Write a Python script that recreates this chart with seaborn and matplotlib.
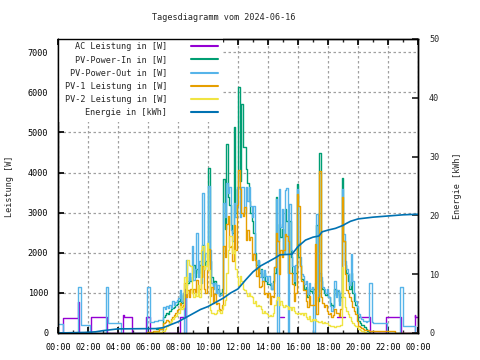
import numpy as np
import pandas as pd
import matplotlib
matplotlib.use('Agg')
import matplotlib.pyplot as plt
from matplotlib.lines import Line2D
from matplotlib.ticker import MultipleLocator
import seaborn as sns

# values (hour of day, watts / kWh), drawn as steps

# AC power: night blocks plus a few short pieces that peek out in daytime
ac_t = [0.00, 0.33, 1.33, 1.42, 2.20, 3.25, 4.33, 4.40, 4.90, 5.85, 6.10, 8.15, 8.45, 8.50]
ac_w = [0, 380, 770, 0, 390, 0, 450, 390, 0, 390, 0, 390, 1100, 0]
ac_day_t = [14.80, 15.07, 17.10, 17.15, 18.60, 19.13]
ac_day_w = [400, 400, 1000, 1000, 400, 400]
ac_eve_t = [20.00, 20.78, 21.88, 22.88, 23.78, 23.80, 24.00]
ac_eve_w = [390, 0, 390, 0, 450, 390, 390]

# daytime grid 07:00 .. 20:54, one value per 6 minutes
day_t = np.round(np.arange(7.0, 21.0, 0.1), 1)

pvout_pre_t = [0.00, 0.33, 1.33, 1.50, 2.13, 3.20, 3.33, 4.20, 5.93, 6.15, 6.40, 6.67]
pvout_pre_w = [220, 0, 1150, 200, 0, 1150, 250, 0, 1150, 270, 300, 330]
pvout_day = [650, 600, 680, 620, 700, 620, 800, 700, 780, 820,
             870, 1080, 800, 1000, 0, 1830, 1300, 1500, 1330, 2170,
             1330, 1600, 2500, 1400, 1800, 1250, 3500, 1800, 2000, 1900,
             3670, 2080, 1250, 1100, 1250, 1000, 1200, 920, 950, 1000,
             3250, 2900, 3750, 3500, 3640, 2580, 2300, 3250, 2900, 3640,
             3640, 2900, 3640, 3640, 3000, 3640, 3300, 3640, 3170, 2900,
             3170, 1830, 1600, 1830, 1400, 1580, 1300, 1580, 1420, 1300,
             1420, 1250, 1100, 1250, 1640, 3330, 0, 3600, 2640, 3080,
             2000, 3560, 3620, 0, 3220, 2080, 1670, 1300, 1700, 3580,
             2250, 1890, 1475, 1420, 1220, 1300, 975, 1250, 1100, 1140,
             0, 1250, 2970, 890, 1500, 1400, 1140, 1100, 1000, 1100,
             890, 670, 560, 640, 1300, 900, 1060, 700, 1000, 3600,
             2470, 1800, 1600, 1475, 1200, 1970, 1300, 1000, 800, 650,
             480, 390, 350, 310, 300, 280, 310, 1240, 1240, 280]
pvout_eve_t = [21.00, 21.50, 21.90, 22.80, 23.00, 23.80, 24.00]
pvout_eve_w = [260, 240, 0, 1150, 180, 0, 0]

pvin_pre_t = [6.50]
pvin_pre_w = [100]
pvin_day = [400, 450, 500, 480, 550, 600, 620, 650, 700, 720,
            800, 950, 750, 1000, 900, 1200, 1250, 1400, 1300, 1500,
            1700, 1400, 1600, 1500, 1700, 1400, 2200, 1600, 1800, 1700,
            4120, 1800, 1400, 1200, 1300, 1000, 1100, 950, 1000, 1100,
            3830, 2600, 4720, 3400, 3200, 2700, 2500, 5140, 3000, 3600,
            6140, 3800, 5720, 4640, 4640, 4080, 3750, 3300, 3000, 2800,
            2500, 2000, 1700, 1800, 1500, 1600, 1400, 1500, 1300, 1220,
            1220, 1200, 1100, 1300, 1500, 3400, 2300, 2720, 2400, 2600,
            2000, 3100, 2800, 1500, 2800, 1900, 1500, 1200, 1500, 3720,
            1900, 1700, 1350, 1300, 1100, 1150, 900, 1100, 1050, 1000,
            1100, 1100, 2700, 800, 4500, 1300, 1100, 1000, 950, 1000,
            900, 750, 700, 650, 1100, 950, 1050, 800, 900, 3870,
            2300, 1700, 1500, 1300, 1100, 1500, 1000, 800, 700, 500,
            300, 250, 200, 200, 150, 100, 50, 0, 0, 0]

pv1_pre_t = [5.95, 6.30, 6.70]
pv1_pre_w = [30, 60, 100]
pv1_day = [250, 280, 330, 300, 250, 350, 400, 450, 500, 580,
           600, 750, 650, 700, 1250, 900, 1080, 900, 1100, 1000,
           1100, 1000, 1330, 1000, 1100, 1400, 1670, 1100, 1000, 1580,
           2100, 920, 1140, 750, 980, 720, 750, 600, 580, 700,
           2170, 1900, 2720, 2920, 2140, 2170, 1800, 2700, 2080, 3200,
           4060, 3580, 3000, 2920, 3140, 2330, 2560, 2330, 2400, 1830,
           1980, 1830, 1420, 1640, 1140, 1170, 1300, 975, 1000, 900,
           1000, 725, 920, 900, 1640, 2500, 2300, 1475, 2080, 1900,
           2080, 2470, 2420, 2300, 1500, 1500, 1220, 800, 1000, 3470,
           3170, 1670, 1300, 1060, 1080, 800, 640, 920, 700, 700,
           700, 2220, 475, 900, 4040, 900, 750, 640, 700, 550,
           475, 500, 400, 450, 600, 500, 500, 420, 600, 3390,
           2300, 1475, 1060, 1000, 890, 800, 650, 550, 475, 300,
           180, 150, 120, 100, 80, 70, 70, 60, 60, 50]
pv1_eve_t = [21.00, 22.45, 24.00]
pv1_eve_w = [50, 0, 0]

pv2_pre_t = [6.40, 6.90]
pv2_pre_w = [20, 60]
pv2_day = [60, 100, 170, 200, 250, 300, 350, 400, 420, 500,
           500, 670, 600, 650, 1400, 1000, 1830, 1700, 1670, 1000,
           900, 1000, 920, 1200, 900, 2080, 2170, 1600, 1670, 2250,
           1580, 580, 500, 500, 480, 500, 580, 560, 500, 600,
           700, 830, 1500, 2080, 2420, 2420, 2000, 2080, 1600, 1400,
           1200, 1420, 1300, 1100, 1080, 1000, 920, 1000, 920, 900,
           750, 800, 670, 700, 670, 600, 500, 550, 500, 480,
           420, 450, 420, 500, 700, 830, 890, 700, 800, 700,
           640, 700, 670, 600, 640, 580, 640, 550, 500, 475,
           500, 480, 500, 450, 500, 400, 350, 420, 300, 350,
           320, 350, 300, 280, 270, 300, 250, 270, 250, 250,
           200, 180, 170, 180, 160, 180, 170, 180, 200, 1640,
           900, 640, 550, 475, 400, 300, 250, 200, 180, 150,
           100, 80, 60, 40, 20, 0, 0, 0, 0, 0]

energy_t = [0.0, 1.8, 2.5, 3.0, 4.0, 6.5, 7.0, 7.5, 8.0, 8.5, 9.0, 9.5, 10.0, 10.5, 11.0, 11.5,
            12.0, 12.5, 13.0, 13.5, 14.0, 14.5, 14.8, 15.6, 16.0, 16.5, 17.0, 17.4, 17.6, 18.0,
            18.5, 19.0, 19.2, 19.5, 20.0, 21.0, 22.0, 23.0, 24.0]
energy_kwh = [0.0, 0.1, 0.2, 0.4, 0.7, 0.75, 0.9, 1.4, 1.9, 2.6, 3.3, 4.0, 4.5, 5.2, 5.9, 6.8,
              7.5, 9.0, 10.4, 11.4, 12.1, 12.8, 13.3, 13.4, 14.7, 15.8, 16.3, 16.5, 17.2, 17.5,
              17.8, 18.3, 18.6, 19.0, 19.4, 19.7, 19.9, 20.1, 20.2]

labels = ['AC Leistung in [W]', 'PV-Power-In in [W]', 'PV-Power-Out in [W]',
          'PV-1 Leistung in [W]', 'PV-2 Leistung in [W]', 'Energie in [kWh]']
colors = ['#9400d3', '#009e73', '#56b4e9', '#e69f00', '#f0e442', '#0072b2']

sns.set_theme(style='white')
plt.rcParams['font.family'] = ['DejaVu Sans Mono']
FS = 6.1

fig = plt.figure(figsize=(4.8, 3.6), dpi=100)
ax = fig.add_axes([58 / 480, 27 / 360, 360 / 480, 294 / 360])
ax2 = ax.twinx()


def step_line(axis, t, w, color, seg=None):
    df = pd.DataFrame({'t': t, 'w': w})
    df['seg'] = 0 if seg is None else seg
    sns.lineplot(data=df, x='t', y='w', units='seg', estimator=None, sort=False,
                 ax=axis, color=color, lw=1.0, drawstyle='steps-post', legend=False)


ac_segs = [0] * len(ac_t) + [1] * 2 + [2] * 2 + [3] * 2 + [4] * len(ac_eve_t)
step_line(ax, ac_t + ac_day_t + ac_eve_t, ac_w + ac_day_w + ac_eve_w, colors[0], ac_segs)
step_line(ax, pvin_pre_t + list(day_t), pvin_pre_w + pvin_day, colors[1])
step_line(ax, pvout_pre_t + list(day_t) + pvout_eve_t, pvout_pre_w + pvout_day + pvout_eve_w, colors[2])
step_line(ax, pv1_pre_t + list(day_t) + pv1_eve_t, pv1_pre_w + pv1_day + pv1_eve_w, colors[3])
step_line(ax, pv2_pre_t + list(day_t), pv2_pre_w + pv2_day, colors[4])
sns.lineplot(x=energy_t, y=energy_kwh, ax=ax2, color=colors[5], lw=1.2, legend=False)

ax.set_xlim(0, 24)
ax.set_ylim(0, 7330)
ax2.set_ylim(0, 50)
ax.set_xticks(range(0, 25, 2))
ax.set_xticklabels([f'{h % 24:02d}:00' for h in range(0, 25, 2)])
ax.xaxis.set_minor_locator(MultipleLocator(1))
ax.set_yticks(range(0, 7001, 1000))
ax2.set_yticks(range(0, 51, 10))

ax.grid(True, color='#a0a0a0', linestyle=(0, (2, 2)), lw=0.9)
ax.set_axisbelow(True)
ax2.grid(False)
ax.tick_params(axis='both', which='major', direction='in', length=4, labelsize=FS,
               top=True, bottom=True, left=True, right=False, pad=7, colors='black')
ax.tick_params(axis='x', which='minor', direction='in', length=2.5, top=True, bottom=True)
ax2.tick_params(axis='y', direction='in', length=4, labelsize=FS, right=True, pad=8)

ax.set_xlabel('')
ax.set_ylabel('Leistung [W]', fontsize=FS, labelpad=10)
ax2.set_ylabel('Energie [kWh]', fontsize=FS, labelpad=10)
for a in (ax, ax2):
    for s in a.spines.values():
        s.set_color('black')
        s.set_linewidth(1.0)
        s.set_zorder(6)

fig.text(224 / 480, 1 - 18 / 360, 'Tagesdiagramm vom 2024-06-16', fontsize=FS,
         ha='center', va='center')

# key box is opaque in the original: it hides the grid behind it
handles = [Line2D([], [], color=c, lw=1.5) for c in colors]
leg = ax2.legend(handles, labels, loc='upper right', bbox_to_anchor=(223 / 480, 1 - 37 / 360),
                 bbox_transform=fig.transFigure, frameon=True, markerfirst=False,
                 handlelength=3.2, handletextpad=2.8, labelspacing=0.5, borderpad=0.6,
                 borderaxespad=0, fontsize=FS, fancybox=False, framealpha=1)
leg.get_frame().set_facecolor('white')
leg.get_frame().set_edgecolor('none')
leg.set_zorder(4)

fig.savefig('out.png', dpi=100)
